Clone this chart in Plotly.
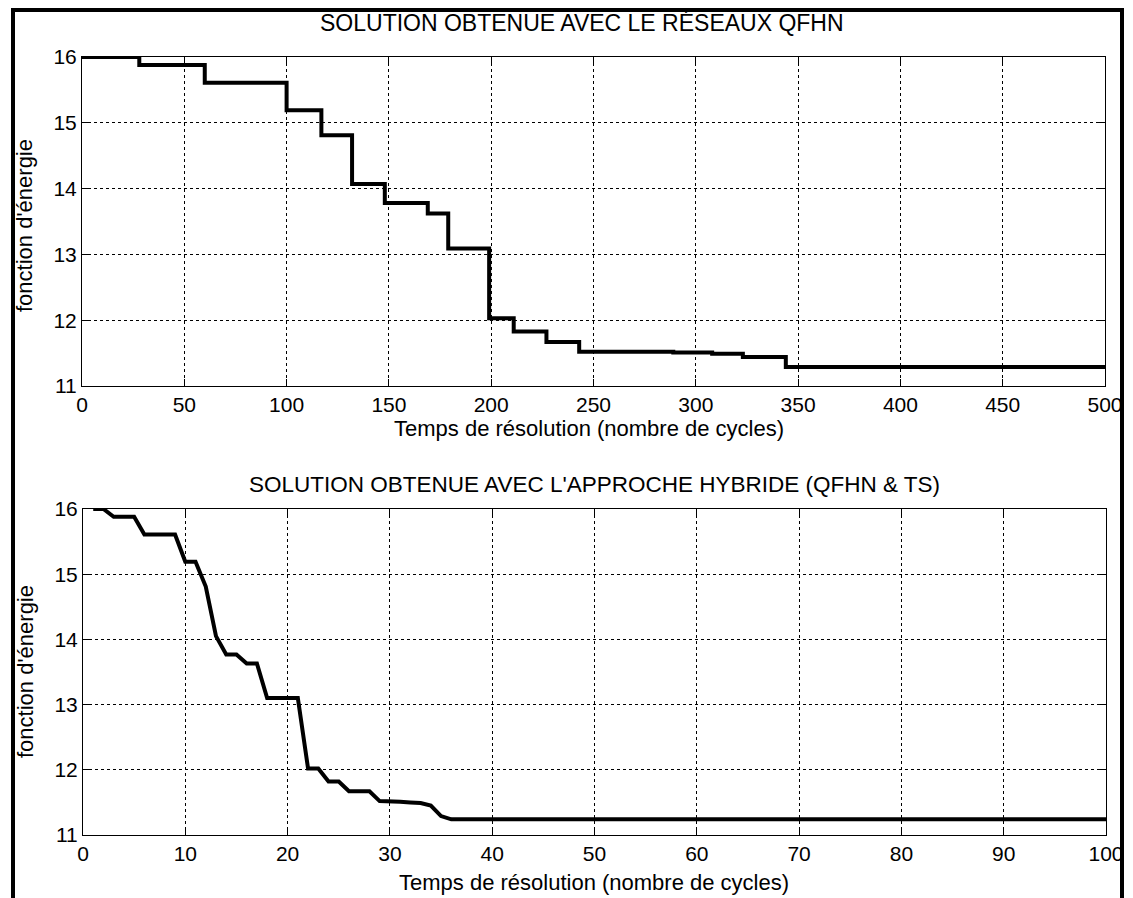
import plotly.graph_objects as go

# ---- data ----
qfhn_cycles = [0, 28, 60, 100, 117, 132, 148, 169, 179, 199, 211, 227, 243, 289, 308, 323, 344, 500]
qfhn_energy = [16.0, 15.88, 15.61, 15.19, 14.81, 14.07, 13.78, 13.62, 13.09, 12.03, 11.83, 11.67,
               11.52, 11.51, 11.49, 11.44, 11.29, 11.28]

hyb_cycles = [1, 2, 3, 5, 6, 9, 10, 11, 12, 13, 14, 15, 16, 17, 18, 21, 22, 23, 24, 25, 26, 28,
              29, 30, 31, 32, 33, 34, 35, 36, 100]
hyb_energy = [16.0, 16.0, 15.88, 15.88, 15.61, 15.61, 15.19, 15.19, 14.81, 14.05, 13.77, 13.77,
              13.63, 13.63, 13.10, 13.10, 12.02, 12.02, 11.82, 11.82, 11.67, 11.67, 11.52, 11.52,
              11.51, 11.50, 11.49, 11.45, 11.29, 11.24, 11.24]

top_xticks = [0, 50, 100, 150, 200, 250, 300, 350, 400, 450, 500]
bot_xticks = [0, 10, 20, 30, 40, 50, 60, 70, 80, 90, 100]
yticks = [11, 12, 13, 14, 15, 16]

title_top = "SOLUTION OBTENUE AVEC LE RÉSEAUX QFHN"
title_bot = "SOLUTION OBTENUE AVEC L'APPROCHE HYBRIDE (QFHN & TS)"
xlabel = "Temps de résolution (nombre de cycles)"
ylabel = "fonction d'énergie"

W, H = 1133, 898
FONT = "Liberation Sans, Arial, sans-serif"

def px_x(p):
    return p / W

def px_y(p):
    return 1 - p / H

fig = go.Figure()
fig.add_trace(go.Scatter(x=qfhn_cycles, y=qfhn_energy, mode="lines", line_shape="hv",
                         line=dict(color="black", width=4), xaxis="x", yaxis="y", showlegend=False))
fig.add_trace(go.Scatter(x=hyb_cycles, y=hyb_energy, mode="lines",
                         line=dict(color="black", width=4), xaxis="x2", yaxis="y2", showlegend=False))

common = dict(showline=True, linecolor="black", linewidth=1, mirror="allticks",
              ticks="inside", ticklen=7, tickcolor="black", automargin=False,
              showgrid=True, gridcolor="black", gridwidth=1, griddash="3px,3px",
              zeroline=False, tickfont=dict(family=FONT, size=21, color="black"))

fig.update_layout(
    template="none",
    width=W, height=H, autosize=False,
    margin=dict(l=0, r=0, t=0, b=0, pad=0),
    paper_bgcolor="white", plot_bgcolor="white",
    xaxis=dict(domain=[px_x(82), px_x(1105)], range=[0, 500], tickvals=top_xticks, anchor="y", **common),
    yaxis=dict(domain=[px_y(386), px_y(57)], range=[11, 16], tickvals=yticks, anchor="x", **common),
    xaxis2=dict(domain=[px_x(83), px_x(1106)], range=[0, 100], tickvals=bot_xticks, anchor="y2", **common),
    yaxis2=dict(domain=[px_y(835), px_y(509)], range=[11, 16], tickvals=yticks, anchor="x2", **common),
)

def ann(text, x, y, size=21, angle=0):
    fig.add_annotation(text=text, x=px_x(x), y=px_y(y), xref="paper", yref="paper",
                       showarrow=False, textangle=angle, xanchor="center", yanchor="middle",
                       font=dict(family=FONT, size=size, color="black"))

ann(title_top, 582, 23, size=23)
ann(title_bot, 594, 484, size=22.5)
ann(xlabel, 589, 429, size=22)
ann(xlabel, 594, 882, size=22)
ann(ylabel, 25, 226, size=22, angle=-90)
ann(ylabel, 25, 672, size=22, angle=-90)

# outer frame
fig.add_shape(type="rect", xref="paper", yref="paper",
              x0=px_x(13), x1=px_x(1122), y0=-0.02, y1=px_y(10),
              line=dict(color="black", width=4), fillcolor="rgba(0,0,0,0)", layer="above")

fig.write_html("out.html",
               post_script="document.body.style.margin='0';document.body.style.overflow='hidden';")
